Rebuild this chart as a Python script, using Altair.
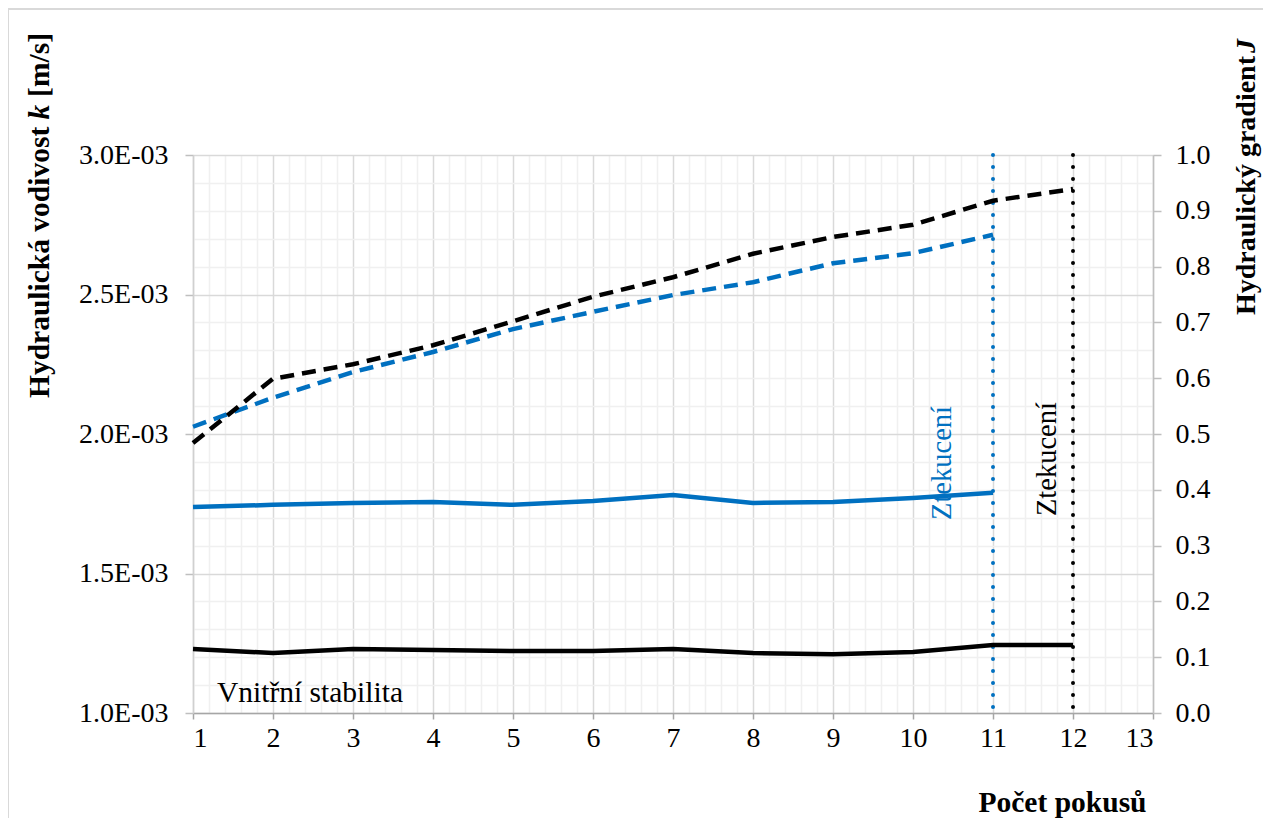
import altair as alt
import pandas as pd

# ---------------- data ----------------
trials_blue = [1, 2, 3, 4, 5, 6, 7, 8, 9, 10, 11]
trials_black = [1, 2, 3, 4, 5, 6, 7, 8, 9, 10, 11, 12]

# hydraulic conductivity k [m/s]
k_blue = [1.738e-3, 1.746e-3, 1.753e-3, 1.756e-3, 1.746e-3, 1.760e-3,
          1.781e-3, 1.753e-3, 1.756e-3, 1.771e-3, 1.789e-3]
k_black = [1.229e-3, 1.215e-3, 1.229e-3, 1.226e-3, 1.222e-3, 1.222e-3,
           1.229e-3, 1.215e-3, 1.211e-3, 1.219e-3, 1.244e-3, 1.244e-3]

# hydraulic gradient J [-]
J_blue = [0.513, 0.565, 0.611, 0.647, 0.688, 0.719, 0.749, 0.772, 0.806, 0.824, 0.857]
J_black = [0.484, 0.599, 0.625, 0.659, 0.702, 0.746, 0.781, 0.823, 0.853, 0.875, 0.918, 0.939]

# liquefaction (Ztekucení) trial numbers
fail_series = ["blue", "black"]
fail_trial = [11, 12]

# annotation labels
ann_text = ["Ztekucení", "Ztekucení"]
ann_series = ["blue", "black"]
ann_x = [10.36, 11.675]
ann_k = [1.896e-3, 1.910e-3]

stab_text = ["Vnitřní stabilita"]
stab_x = [1.3]
stab_k = [1.04e-3]

series_names = ["blue", "black"]
series_colors = ["#0070C0", "#000000"]

x_ticks = [round(1 + 0.2 * i, 1) for i in range(61)]
k_ticks = [round(1.0e-3 + 0.1e-3 * i, 6) for i in range(21)]
J_ticks = [round(0.1 * i, 1) for i in range(11)]

# axis title pieces (plain + italic symbol)
left_title = ["Hydraulická vodivost", "k", "[m/s]"]
right_title = ["Hydraulický gradient", "J"]
x_title = "Počet pokusů"

# ---------------- tables ----------------
k_df = pd.DataFrame({
    "trial": trials_blue + trials_black,
    "k": k_blue + k_black,
    "series": ["blue"] * len(trials_blue) + ["black"] * len(trials_black),
})
J_df = pd.DataFrame({
    "trial": trials_blue + trials_black,
    "J": J_blue + J_black,
    "series": ["blue"] * len(trials_blue) + ["black"] * len(trials_black),
})
fail_df = pd.DataFrame({"trial": fail_trial, "series": fail_series})
ann_df = pd.DataFrame({"trial": ann_x, "k": ann_k, "series": ann_series, "text": ann_text})
stab_df = pd.DataFrame({"trial": stab_x, "k": stab_k, "text": stab_text})
one = pd.DataFrame({"d": [0]})

FONT = "Liberation Serif"
TICK_FS = 28
TITLE_FS = 29.5

color_scale = alt.Scale(domain=series_names, range=series_colors)
color_enc = alt.Color("series:N", scale=color_scale, legend=None)

major_x = "datum.value % 1 === 0"
major_k = "abs(datum.value * 2000 - round(datum.value * 2000)) < 1e-6"

x_axis = alt.Axis(
    values=x_ticks,
    grid=True,
    gridColor={"condition": {"test": major_x, "value": "#d9d9d9"}, "value": "#f0f0f0"},
    gridWidth=1.5,
    labelExpr=f"{major_x} ? format(datum.value, 'd') : ''",
    labelOverlap=False,
    labelFont=FONT, labelFontSize=TICK_FS, labelColor="#000000", labelPadding=5,
    tickOpacity={"condition": {"test": major_x, "value": 1}, "value": 0},
    tickColor="#a6a6a6", tickSize=6, tickWidth=1.5,
    domainColor="#a6a6a6", domainWidth=1.5,
    title=x_title,
    titleFont=FONT, titleFontSize=TITLE_FS, titleFontWeight="bold", titleColor="#000000",
    titleAnchor="start", titleAlign="center", titleBaseline="middle",
    titleX=869, titleY=89,
)
x_enc = alt.X("trial:Q", scale=alt.Scale(domain=[1, 13], nice=False, zero=False), axis=x_axis)

k_axis = alt.Axis(
    values=k_ticks,
    grid=True,
    gridColor={"condition": {"test": major_k, "value": "#d9d9d9"}, "value": "#f0f0f0"},
    gridWidth=1.5,
    labelExpr=f"{major_k} ? format(datum.value * 1000, '.1f') + 'E-03' : ''",
    labelOverlap=False,
    labelFont=FONT, labelFontSize=TICK_FS, labelColor="#000000", labelPadding=17,
    tickOpacity={"condition": {"test": major_k, "value": 1}, "value": 0},
    tickColor="#bfbfbf", tickSize=8, tickWidth=1.5,
    domainColor="#d0d0d0", domainWidth=1.5,
    title=None,
)
k_enc = alt.Y("k:Q", scale=alt.Scale(domain=[1.0e-3, 3.0e-3], nice=False, zero=False), axis=k_axis)

J_axis = alt.Axis(
    orient="right",
    values=J_ticks,
    format=".1f",
    grid=False,
    labelFont=FONT, labelFontSize=TICK_FS, labelColor="#000000", labelPadding=14,
    tickColor="#bfbfbf", tickSize=8, tickWidth=1.5,
    domainColor="#bfbfbf", domainWidth=1.5,
    title=None,
)
J_enc = alt.Y("J:Q", scale=alt.Scale(domain=[0, 1], nice=False, zero=True), axis=J_axis)

# outer chart border (decoration)
border = alt.Chart(one).mark_rect(
    fill="#ffffff", fillOpacity=0, stroke="#d9d9d9", strokeWidth=2
).encode(
    x=alt.value(-185), x2=alt.value(1200), y=alt.value(-146), y2=alt.value(760)
)

# axis titles with italic symbols
def title_piece(text, x, y, align, italic=False, fs=TITLE_FS):
    return alt.Chart(one).mark_text(
        text=text, angle=270, font=FONT, fontSize=fs, fontWeight="bold",
        fontStyle="italic" if italic else "normal",
        align=align, baseline="middle", color="#000000",
    ).encode(x=alt.value(x), y=alt.value(y))

lt1 = title_piece(left_title[0], -153, 243, "left")
lt2 = title_piece(left_title[1], -153, -43, "center", italic=True)
lt3 = title_piece(left_title[2], -153, -122, "right")
rt1 = title_piece(right_title[0], 1054, 160, "left", fs=28)
rt2 = title_piece(right_title[1], 1054, -116, "right", italic=True, fs=28)

rules = alt.Chart(fail_df).mark_rule(
    strokeWidth=4, strokeDash=[0.1, 11.9], strokeCap="round"
).encode(x=x_enc, color=color_enc)

solid = alt.Chart(k_df).mark_line(strokeWidth=4.5).encode(
    x=x_enc, y=k_enc, color=color_enc, detail="series:N"
)

ann = alt.Chart(ann_df).mark_text(
    angle=270, font=FONT, fontSize=28.5, align="center", baseline="middle"
).encode(x=x_enc, y=k_enc, text="text:N", color=color_enc)

stab = alt.Chart(stab_df).mark_text(
    font=FONT, fontSize=29.5, align="left", baseline="alphabetic", color="#000000"
).encode(x=x_enc, y=k_enc, text="text:N")

left = alt.layer(border, rules, solid, ann, stab, lt1, lt2, lt3, rt1, rt2)

dashed = alt.Chart(J_df).mark_line(strokeWidth=4.5, strokeDash=[14, 8]).encode(
    x=x_enc, y=J_enc, color=color_enc, detail="series:N"
)

chart = alt.layer(left, dashed).resolve_scale(y="independent").properties(
    width=960,
    height=558,
    autosize="none",
    padding={"left": 185, "top": 147, "right": 110, "bottom": 105},
    background="#ffffff",
).configure_view(stroke=None)

chart.save("out.html", embed_options={"renderer": "svg", "actions": False})
